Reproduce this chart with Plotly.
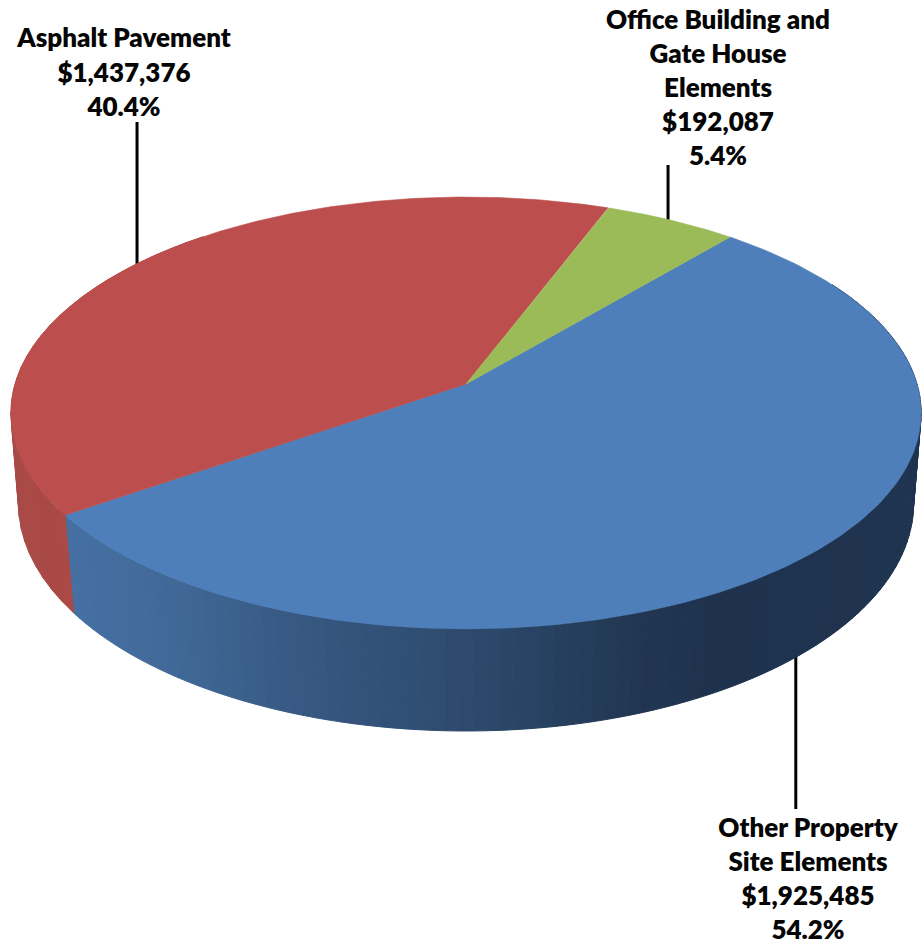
import numpy as np
import plotly.graph_objects as go

# Project cost breakdown
categories = ["Other Property Site Elements", "Asphalt Pavement", "Office Building and Gate House Elements"]
costs = [1925485, 1437376, 192087]
label_names = [["Other Property", "Site Elements"], ["Asphalt Pavement"], ["Office Building and", "Gate House", "Elements"]]

face_colors = ["#4e7fba", "#bc4f4d", "#9bbb59"]
FONT = "Lato"
FONT_SIZE = 26

# Perspective disc: angles run clockwise from the far edge
START_DEG = 40.2
CX = 466.0
TOP_PLANE = dict(y0=384.0, a=451.0, b=212.0, k=0.134)
BOTTOM_PLANE = dict(y0=475.0, a=444.0, b=224.0, k=0.125)


def project(deg, plane):
    t = np.radians(deg)
    x, y = np.sin(t), -np.cos(t)
    w = 1 - plane["k"] * y
    return CX + plane["a"] * x / w, plane["y0"] + plane["b"] * y / w


def mix(stops, pos):
    xs = [s[0] for s in stops]
    rgb = [np.interp(pos, xs, [s[1][i] for s in stops]) for i in range(3)]
    return "rgb(%d,%d,%d)" % tuple(round(c) for c in rgb)


# Side wall shading from left to right across the front of the disc
blue_wall = [(60, (70, 112, 163)), (150, (66, 107, 155)), (300, (54, 88, 130)),
             (480, (44, 73, 107)), (640, (33, 54, 82)), (720, (30, 50, 78)), (923, (31, 52, 80))]
red_wall = [(0, (168, 74, 71)), (70, (170, 73, 70))]

total = sum(costs)
shares = [c / total for c in costs]
edges = START_DEG + 360 * np.concatenate([[0], np.cumsum(shares)])
mids = (edges[:-1] + edges[1:]) / 2

fig = go.Figure()


def polygon(xs, ys, color, width=0.6):
    fig.add_trace(go.Scatter(x=xs, y=ys, mode="lines", fill="toself", fillcolor=color,
                             line=dict(color=color, width=width), hoverinfo="skip", showlegend=False))


def leader(xs, ys):
    fig.add_trace(go.Scatter(x=xs, y=ys, mode="lines", line=dict(color="#000000", width=3),
                             hoverinfo="skip", showlegend=False))


# Leader lines sit behind the disc and rise or drop from each slice's middle angle
leader_ends = [809, 122, 165]
leader_nudge = [0.5, -0.5, -3]
for i, mid in enumerate(mids):
    plane = BOTTOM_PLANE if i == 0 else TOP_PLANE
    px, py = project(mid, plane)
    py_in = py - 6 if i == 0 else py + 6
    leader([px + leader_nudge[i]] * 2, [py_in, leader_ends[i]])

# Side walls, drawn as narrow quads
def wall(a0, a1, stops, step=1.5):
    n = max(2, int((a1 - a0) / step))
    angles = np.linspace(a0, a1, n + 1)
    for s, e in zip(angles[:-1], angles[1:]):
        tx0, ty0 = project(s, TOP_PLANE)
        tx1, ty1 = project(e, TOP_PLANE)
        bx0, by0 = project(s, BOTTOM_PLANE)
        bx1, by1 = project(e, BOTTOM_PLANE)
        polygon([tx0, tx1, bx1, bx0, tx0], [ty0, ty1, by1, by0, ty0],
                mix(stops, (tx0 + tx1) / 2), width=1)


wall(60, edges[1], blue_wall)
wall(edges[1], 320, red_wall, step=3)

# Top faces
for i in range(3):
    arc = np.linspace(edges[i], edges[i + 1], 200)
    ax, ay = project(arc, TOP_PLANE)
    cx0, cy0 = project(0, dict(TOP_PLANE, a=0, b=0))
    polygon(np.r_[cx0, ax, cx0], np.r_[cy0, ay, cy0], face_colors[i])

# Labels, one text mark per line
label_x = [808, 124, 718]
label_y = [[830, 864, 898, 932], [40, 75, 109], [22, 56, 90, 124, 158]]
for i, names in enumerate(label_names):
    lines = names + [f"${costs[i]:,}", f"{100 * shares[i]:.1f}%"]
    fig.add_trace(go.Scatter(
        x=[label_x[i]] * len(lines), y=label_y[i], text=lines, mode="text",
        textposition="middle center", hoverinfo="skip", showlegend=False,
        textfont=dict(family=FONT, size=FONT_SIZE, color="#050505", weight=800),
    ))

fig.update_layout(
    width=923, height=943, autosize=False,
    margin=dict(l=0, r=0, t=0, b=0),
    paper_bgcolor="#ffffff", plot_bgcolor="#ffffff",
    xaxis=dict(range=[0, 923], visible=False, fixedrange=True),
    yaxis=dict(range=[943, 0], visible=False, fixedrange=True),
)

fig.write_html("out.html")
